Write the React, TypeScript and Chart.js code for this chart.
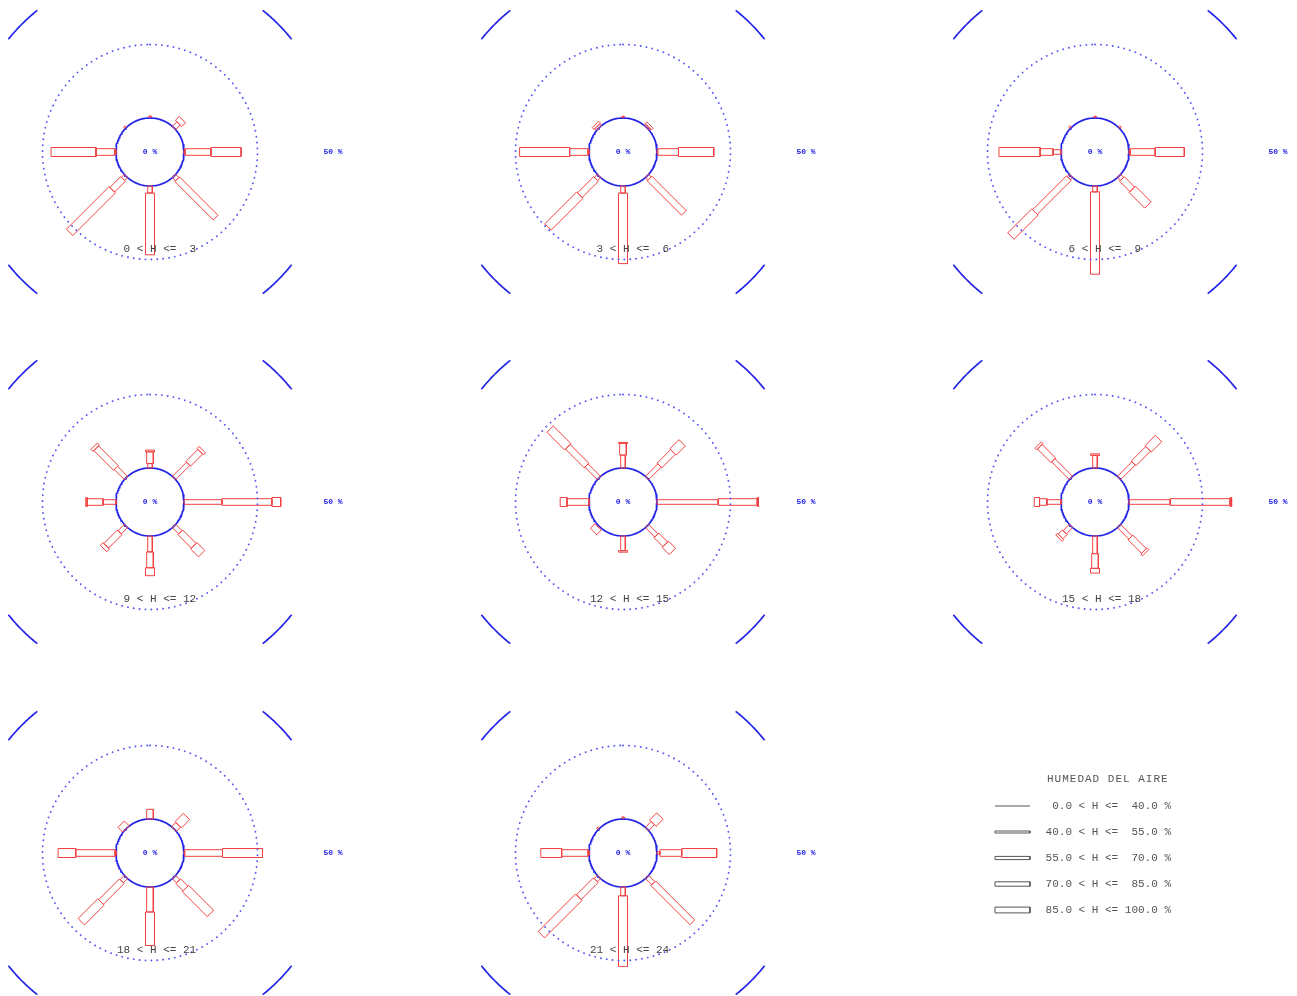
import React, { useEffect, useRef } from "react";
import { Chart, registerables } from "chart.js";

Chart.register(...registerables);

// Wind directions, clockwise from north (bearing in degrees = index * 45)
const DIRECTIONS = ["N", "NE", "E", "SE", "S", "SW", "W", "NW"];

// Humidity classes (legend text)
const HUMIDITY_CLASSES = [
  "0.0 < H <=  40.0 %",
  "40.0 < H <=  55.0 %",
  "55.0 < H <=  70.0 %",
  "70.0 < H <=  85.0 %",
  "85.0 < H <= 100.0 %",
];

// Hour ranges, one per rose
const HOUR_LABELS = [
  " 0 < H <=  3",
  " 3 < H <=  6",
  " 6 < H <=  9",
  " 9 < H <= 12",
  "12 < H <= 15",
  "15 < H <= 18",
  "18 < H <= 21",
  "21 < H <= 24",
];

// Frequency (%) per direction (N, NE, E, SE, S, SW, W, NW),
// split by humidity class [0-40, 40-55, 55-70, 70-85, 85-100]
const freq00to03 = [
  [0.3, 0.4, 0, 0, 0],
  [0, 0, 2.2, 0, 1.8],
  [0, 0, 0.4, 8.8, 10.2],
  [0, 0, 1.5, 18.5, 0],
  [0, 0, 2.4, 0, 21],
  [0, 0, 1.4, 5.2, 20.5],
  [0, 0, 0.5, 6.3, 15.3],
  [0.3, 0.4, 0, 0, 0],
];
const freq03to06 = [
  [0.3, 0.3, 0, 0, 0],
  [0, 0, 0, 0.6, 0.8],
  [0, 0, 0.3, 7, 12],
  [0, 0, 1.2, 16.5, 0],
  [0, 0, 2.4, 0, 24],
  [0, 0, 1.4, 7.8, 15.3],
  [0, 0, 0.3, 6.3, 17],
  [0, 0, 0, 0.8, 0.9],
];
const freq06to09 = [
  [0.3, 0.3, 0, 0, 0],
  [0.3, 0.4, 0, 0, 0],
  [0, 0, 0.4, 8.5, 9.9],
  [0, 0, 1.4, 5, 7.5],
  [0, 0, 2, 0, 28],
  [0, 0, 1, 16.3, 11.6],
  [0, 0, 2.7, 4.4, 14],
  [0.3, 0.4, 0, 0, 0],
];
const freq09to12 = [
  [0, 0, 1.5, 4, 0.6],
  [0, 0, 6.8, 5.8, 1],
  [0, 0, 12.9, 17, 3],
  [0, 0, 3, 6.5, 3.8],
  [0, 0, 5.4, 5.4, 2.7],
  [0, 0, 3, 6.5, 1.3],
  [0, 0, 4.4, 5.4, 0.5],
  [0, 0, 4.8, 9.5, 1],
];
const freq12to15 = [
  [0, 0, 4.4, 4, 0.3],
  [0, 0, 6, 6.5, 4.4],
  [0, 0, 20.8, 13.3, 0.4],
  [0, 0, 4.5, 4.3, 3.4],
  [0, 0, 5, 0, 0.5],
  [0.4, 0, 0, 0, 2.2],
  [0, 0, 0, 7.5, 2.3],
  [0, 0, 6, 9, 8.5],
];
const freq15to18 = [
  [0, 0, 4.3, 0, 0.5],
  [0, 0, 7, 7, 5],
  [0, 0, 14, 20.4, 0.5],
  [0, 0, 5.5, 6.5, 0.8],
  [0, 0, 6, 5, 1.6],
  [0, 0, 3, 2, 0.8],
  [0, 0, 4.8, 2.5, 1.8],
  [0, 0, 8.5, 6.5, 0.8],
];
const freq18to21 = [
  [0, 0, 0, 3.3, 0],
  [0, 0, 0, 2, 4],
  [0, 0, 0.3, 12.8, 13.6],
  [0, 0, 2, 3.5, 12],
  [0, 0, 0, 8.5, 11.4],
  [0, 0, 2, 10, 9.5],
  [0, 0, 0.3, 13.4, 6],
  [0, 0, 0, 0, 2.3],
];
const freq21to24 = [
  [0.3, 0.4, 0, 0, 0],
  [0, 0, 2.8, 0, 3.4],
  [0, 1, 0, 7.4, 11.9],
  [0, 0, 3, 18.8, 0],
  [0, 0, 3, 0, 24],
  [0, 0, 1.5, 8.2, 18],
  [0, 0, 0.3, 9, 7.1],
  [0.3, 0.4, 0, 0, 0],
];

const ROSES = [
  freq00to03,
  freq03to06,
  freq06to09,
  freq09to12,
  freq12to15,
  freq15to18,
  freq18to21,
  freq21to24,
];

// Reference rings (%)
const DOTTED_RING_PCT = 25;
const OUTER_RING_PCT = 50;

// ---- layout / style ----
const PX_PER_PCT = 2.94;
const CORE_RADIUS_PX = 34;
const R0 = CORE_RADIUS_PX / PX_PER_PCT; // zero-percent radius, in % units
const CELL_W = 473;
const CELL_H = 350;
const CENTER_X = 150; // rose centre inside its canvas
const CENTER_Y = 151;
const ROSE_CENTERS_X = [150, 623, 1095];
const ROSE_CENTERS_Y = [152, 502, 853];
const BAR_HALF_WIDTH_PX = [0, 1.2, 2.3, 3.3, 4.5];
const BAR_COLOR = "#f24040";
const BLUE = "#2424e6";
const ARC_HALF_SPAN_DEG = 6.5;

type P = { x: number; y: number };

// bearing (deg, clockwise from north), radial distance r and lateral offset s -> x/y
function polar(deg: number, r: number, s: number): P {
  const t = (deg * Math.PI) / 180;
  return {
    x: r * Math.sin(t) + s * Math.cos(t),
    y: r * Math.cos(t) - s * Math.sin(t),
  };
}

function arcPoints(radius: number, fromDeg: number, toDeg: number, steps: number): P[] {
  const pts: P[] = [];
  for (let i = 0; i <= steps; i++) {
    const d = fromDeg + ((toDeg - fromDeg) * i) / steps;
    pts.push(polar(d, radius, 0));
  }
  return pts;
}

function lineSet(data: P[], color: string, width: number, extra: any = {}) {
  return {
    data,
    showLine: true,
    borderColor: color,
    borderWidth: width,
    pointRadius: 0,
    pointHoverRadius: 0,
    fill: false,
    tension: 0,
    ...extra,
  };
}

function roseDatasets(rose: number[][]) {
  const sets: any[] = [];
  // ring at 25 %
  sets.push(
    lineSet(arcPoints(R0 + DOTTED_RING_PCT, 0, 360, 240), "#5c5cf2", 1.9, {
      borderDash: [0.1, 5.8],
      borderCapStyle: "round",
    })
  );
  // 50 % ring, shown only as four diagonal arcs
  [45, 135, 225, 315].forEach((b) => {
    sets.push(
      lineSet(
        arcPoints(R0 + OUTER_RING_PCT, b - ARC_HALF_SPAN_DEG, b + ARC_HALF_SPAN_DEG, 20),
        BLUE,
        1.7
      )
    );
  });
  // stacked humidity segments for every direction
  rose.forEach((classes, di) => {
    const bearing = di * (360 / DIRECTIONS.length);
    let cum = 0;
    classes.forEach((v, k) => {
      if (v <= 0) return;
      const r0 = R0 + cum;
      const r1 = r0 + v;
      cum += v;
      const h = BAR_HALF_WIDTH_PX[k] / PX_PER_PCT;
      const pts =
        h === 0
          ? [polar(bearing, r0, 0), polar(bearing, r1, 0)]
          : [
              polar(bearing, r0, -h),
              polar(bearing, r1, -h),
              polar(bearing, r1, h),
              polar(bearing, r0, h),
              polar(bearing, r0, -h),
            ];
      sets.push(lineSet(pts, BAR_COLOR, 1));
    });
  });
  // zero-percent core circle
  sets.push(lineSet(arcPoints(R0, 0, 360, 160), BLUE, 1.7));
  return sets;
}

const roseText = {
  id: "roseText",
  afterDatasetsDraw(chart: any, _args: any, opts: any) {
    const ctx = chart.ctx;
    const xs = chart.scales.x;
    const ys = chart.scales.y;
    const cx = xs.getPixelForValue(0);
    const cy = ys.getPixelForValue(0);
    ctx.save();
    ctx.fillStyle = BLUE;
    ctx.font = "bold 8px 'Liberation Mono', monospace";
    ctx.textAlign = "center";
    ctx.textBaseline = "middle";
    ctx.fillText("0 %", cx, cy);
    ctx.fillText("50 %", xs.getPixelForValue(R0 + OUTER_RING_PCT) + 2, cy);
    ctx.fillStyle = "#444";
    ctx.font = "11px 'Liberation Mono', monospace";
    ctx.textAlign = "left";
    ctx.fillText(opts.label, cx - 33, cy + 97);
    ctx.restore();
  },
};

function RosePanel({ rose, label, left, top }: { rose: number[][]; label: string; left: number; top: number }) {
  const ref = useRef<HTMLCanvasElement>(null);
  useEffect(() => {
    if (!ref.current) return;
    const chart = new Chart(ref.current, {
      type: "scatter",
      data: { datasets: roseDatasets(rose) as any },
      options: {
        responsive: false,
        animation: false,
        events: [],
        layout: { padding: 0 },
        scales: {
          x: { type: "linear", display: false, min: -CENTER_X / PX_PER_PCT, max: (CELL_W - CENTER_X) / PX_PER_PCT },
          y: { type: "linear", display: false, min: -(CELL_H - CENTER_Y) / PX_PER_PCT, max: CENTER_Y / PX_PER_PCT },
        },
        plugins: {
          legend: { display: false },
          tooltip: { enabled: false },
          roseText: { label },
        } as any,
      },
      plugins: [roseText],
    });
    return () => chart.destroy();
  }, [rose, label]);
  return (
    <canvas
      ref={ref}
      width={CELL_W}
      height={CELL_H}
      style={{ position: "absolute", left, top, width: CELL_W, height: CELL_H }}
    />
  );
}

// ---- legend ----
const LEGEND_W = 220;
const LEGEND_H = 170;
const LEGEND_HALF_WIDTH_PX = [0, 1, 1.6, 2.2, 2.9];

const legendText = {
  id: "legendText",
  afterDatasetsDraw(chart: any) {
    const ctx = chart.ctx;
    const xs = chart.scales.x;
    const ys = chart.scales.y;
    ctx.save();
    ctx.fillStyle = "#555";
    ctx.textBaseline = "middle";
    ctx.font = "11px 'Liberation Mono', monospace";
    (ctx as any).letterSpacing = "1px";
    ctx.textAlign = "left";
    ctx.fillText("HUMEDAD DEL AIRE", xs.getPixelForValue(67), ys.getPixelForValue(19));
    (ctx as any).letterSpacing = "0px";
    ctx.textAlign = "right";
    HUMIDITY_CLASSES.forEach((t, i) => {
      ctx.fillText(t, xs.getPixelForValue(191), ys.getPixelForValue(46 + i * 26));
    });
    ctx.restore();
  },
};

function Legend() {
  const ref = useRef<HTMLCanvasElement>(null);
  useEffect(() => {
    if (!ref.current) return;
    const sets = HUMIDITY_CLASSES.map((_, i) => {
      const y = 46 + i * 26;
      const h = LEGEND_HALF_WIDTH_PX[i];
      const pts =
        h === 0
          ? [{ x: 15, y }, { x: 50, y }]
          : [
              { x: 15, y: y - h },
              { x: 50, y: y - h },
              { x: 50, y: y + h },
              { x: 15, y: y + h },
              { x: 15, y: y - h },
            ];
      return lineSet(pts, "#555", 1);
    });
    const chart = new Chart(ref.current, {
      type: "scatter",
      data: { datasets: sets as any },
      options: {
        responsive: false,
        animation: false,
        events: [],
        layout: { padding: 0 },
        scales: {
          x: { type: "linear", display: false, min: 0, max: LEGEND_W },
          y: { type: "linear", display: false, min: 0, max: LEGEND_H, reverse: true },
        },
        plugins: { legend: { display: false }, tooltip: { enabled: false } },
      },
      plugins: [legendText],
    });
    return () => chart.destroy();
  }, []);
  return (
    <canvas
      ref={ref}
      width={LEGEND_W}
      height={LEGEND_H}
      style={{ position: "absolute", left: 980, top: 760, width: LEGEND_W, height: LEGEND_H }}
    />
  );
}

export default function App() {
  return (
    <div
      style={{
        position: "absolute",
        left: 0,
        top: 0,
        width: 1297,
        height: 996,
        overflow: "hidden",
        background: "#fff",
      }}
    >
      {ROSES.map((rose, i) => {
        const col = i % 3;
        const row = Math.floor(i / 3);
        return (
          <RosePanel
            key={i}
            rose={rose}
            label={HOUR_LABELS[i]}
            left={ROSE_CENTERS_X[col] - CENTER_X}
            top={ROSE_CENTERS_Y[row] - CENTER_Y}
          />
        );
      })}
      <Legend />
    </div>
  );
}
